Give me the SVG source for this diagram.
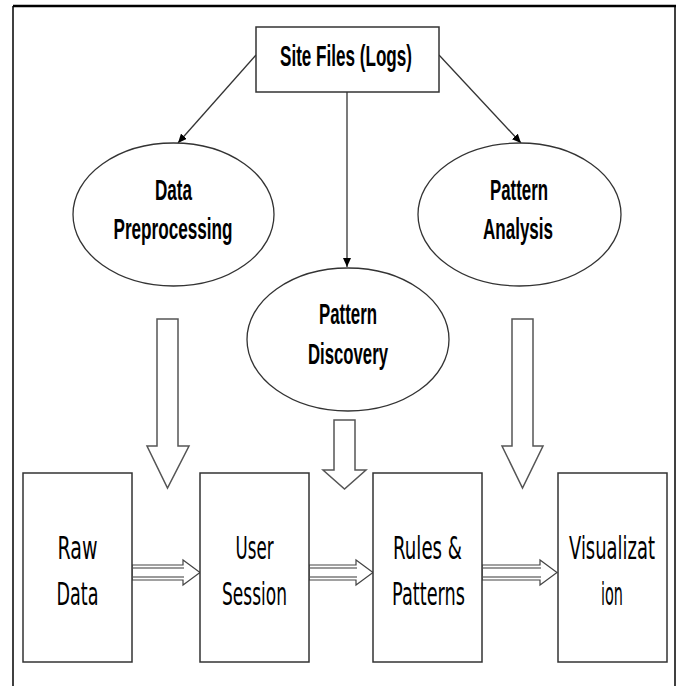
<svg xmlns="http://www.w3.org/2000/svg" width="683" height="686" viewBox="0 0 683 686">
<style>
.frame{stroke:#000;fill:none}
.box{fill:#fff;stroke:#333;stroke-width:1.5}
.ell{fill:#fff;stroke:#333;stroke-width:1.3}
.conn{stroke:#333;stroke-width:1.3;fill:none}
.big{fill:#fff;stroke:#555;stroke-width:1.5;stroke-linejoin:miter}
.small{fill:#fff;stroke:#444;stroke-width:1.2}
.stripe{stroke:#9a9a9a;stroke-width:2}
.t1{font-family:"Liberation Sans",Arial,sans-serif;font-weight:bold;font-size:30px;fill:#000;text-anchor:middle}
.t2{font-family:"DejaVu Sans","Liberation Sans",sans-serif;font-size:32px;fill:#000;text-anchor:middle}
</style>
<defs>
<marker id="ah" markerUnits="userSpaceOnUse" markerWidth="10" markerHeight="8" refX="9" refY="4" orient="auto">
<path d="M0,0 L9,4 L0,8 Z" fill="#000"/>
</marker>
</defs>
<rect width="683" height="686" fill="#fff"/>
<g id="frame">
<line class="frame" x1="13" y1="6" x2="676" y2="6" stroke-width="2.5"/>
<line class="frame" x1="13" y1="6" x2="13" y2="686" stroke-width="1.5"/>
<line class="frame" x1="675" y1="6" x2="675" y2="686" stroke-width="1.5"/>
</g>
<g id="connectors">
<line class="conn" x1="256" y1="55" x2="178" y2="143" marker-end="url(#ah)"/>
<line class="conn" x1="347" y1="92" x2="347" y2="267" marker-end="url(#ah)"/>
<line class="conn" x1="439" y1="55" x2="521" y2="143" marker-end="url(#ah)"/>
<polygon class="big" points="157,319 178,319 178,446 189,446 167.5,488 147,446 157,446"/>
<polygon class="big" points="512,319 533,319 533,446 543,446 522.5,488 502,446 512,446"/>
<polygon class="big" points="334,420 355,420 355,470 366,470 344.5,489 323,470 334,470"/>
<polygon class="small" points="132,565 183,565 183,560 200,572.5 183,585 183,580 132,580"/>
<line class="stripe" x1="132" y1="568" x2="184" y2="568"/>
<line class="stripe" x1="132" y1="577" x2="184" y2="577"/>
<polygon class="small" points="309,565 356,565 356,560 373,572.5 356,585 356,580 309,580"/>
<line class="stripe" x1="309" y1="568" x2="357" y2="568"/>
<line class="stripe" x1="309" y1="577" x2="357" y2="577"/>
<polygon class="small" points="482,565 540,565 540,560 557,572.5 540,585 540,580 482,580"/>
<line class="stripe" x1="482" y1="568" x2="541" y2="568"/>
<line class="stripe" x1="482" y1="577" x2="541" y2="577"/>
</g>
<g id="site-files">
<rect class="box" x="256" y="27" width="183" height="65"/>
<text class="t1" x="346" y="66" textLength="132" lengthAdjust="spacingAndGlyphs">Site Files (Logs)</text>
</g>
<g id="data-preprocessing">
<ellipse class="ell" cx="173.5" cy="214.5" rx="100.5" ry="71.5"/>
<text class="t1" x="173.5" y="200" textLength="37" lengthAdjust="spacingAndGlyphs">Data</text>
<text class="t1" x="173" y="239" textLength="119" lengthAdjust="spacingAndGlyphs">Preprocessing</text>
</g>
<g id="pattern-analysis">
<ellipse class="ell" cx="519.5" cy="214.5" rx="101.5" ry="71.5"/>
<text class="t1" x="519" y="200" textLength="58" lengthAdjust="spacingAndGlyphs">Pattern</text>
<text class="t1" x="518" y="239" textLength="70" lengthAdjust="spacingAndGlyphs">Analysis</text>
</g>
<g id="pattern-discovery">
<ellipse class="ell" cx="348" cy="339.5" rx="101" ry="71.5"/>
<text class="t1" x="348" y="324" textLength="58" lengthAdjust="spacingAndGlyphs">Pattern</text>
<text class="t1" x="348" y="364" textLength="80" lengthAdjust="spacingAndGlyphs">Discovery</text>
</g>
<g id="raw-data">
<rect class="box" x="23" y="473" width="109" height="189"/>
<text class="t2" x="77.5" y="559" textLength="40" lengthAdjust="spacingAndGlyphs">Raw</text>
<text class="t2" x="77.5" y="605" textLength="42" lengthAdjust="spacingAndGlyphs">Data</text>
</g>
<g id="user-session">
<rect class="box" x="200" y="473" width="109" height="189"/>
<text class="t2" x="254.5" y="559" textLength="38" lengthAdjust="spacingAndGlyphs">User</text>
<text class="t2" x="254.5" y="605" textLength="65" lengthAdjust="spacingAndGlyphs">Session</text>
</g>
<g id="rules-patterns">
<rect class="box" x="373" y="473" width="109" height="189"/>
<text class="t2" x="427.5" y="559" textLength="69" lengthAdjust="spacingAndGlyphs">Rules &amp;</text>
<text class="t2" x="428.5" y="605" textLength="73" lengthAdjust="spacingAndGlyphs">Patterns</text>
</g>
<g id="visualization">
<rect class="box" x="558" y="473" width="109" height="189"/>
<text class="t2" x="612" y="559" textLength="86" lengthAdjust="spacingAndGlyphs">Visualizat</text>
<text class="t2" x="612" y="605" textLength="22" lengthAdjust="spacingAndGlyphs">ion</text>
</g>
</svg>
